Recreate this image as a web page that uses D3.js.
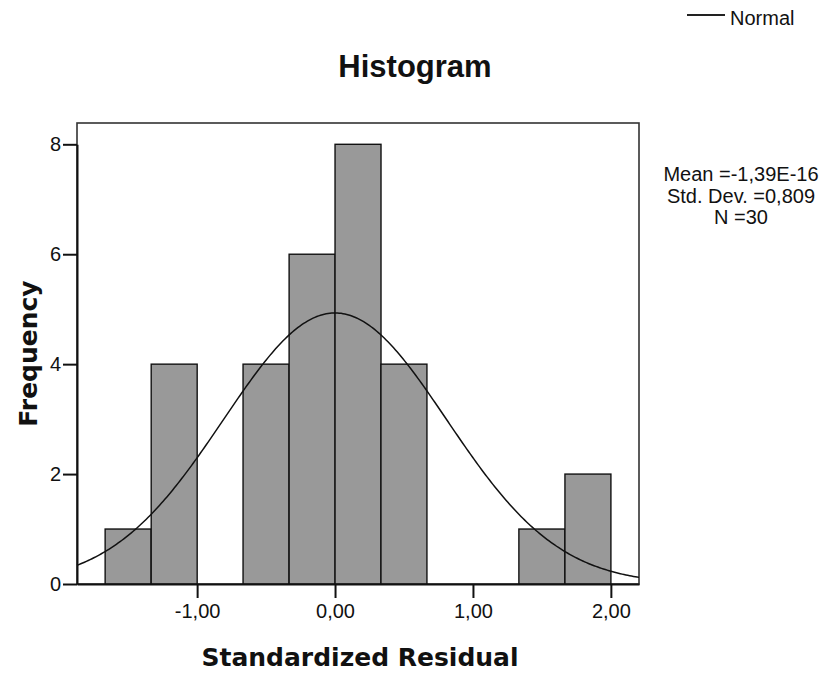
<!DOCTYPE html>
<html>
<head>
<meta charset="utf-8">
<script src="https://cdn.jsdelivr.net/npm/d3@7"></script>
<style>
  html, body { margin: 0; padding: 0; background: #fff; }
  svg { display: block; }
  text { font-family: "Liberation Sans", Arial, sans-serif; fill: #111; }
  .axis-title { font-family: "DejaVu Sans", Verdana, sans-serif; font-weight: bold; font-size: 25px; }
</style>
</head>
<body>
<svg id="chart" width="828" height="675"></svg>
<script>
// Histogram bins: lower edge of each bin and its frequency
const binLower = [-1.667, -1.333, -1.0, -0.667, -0.333, 0.0, 0.333, 0.667, 1.0, 1.333, 1.667];
const counts   = [1, 4, 0, 4, 6, 8, 4, 0, 0, 1, 2];
const binWidth = 1 / 3;

// Summary statistics shown beside the plot
const meanValue = -1.39e-16;
const stdDev = 0.809;
const nObs = 30;
const statLines = ["Mean =-1,39E-16", "Std. Dev. =0,809", "N =30"];

// Axis ticks
const xTicks = [-1, 0, 1, 2];
const xTickLabels = ["-1,00", "0,00", "1,00", "2,00"];
const yTicks = [0, 2, 4, 6, 8];

const svg = d3.select("#chart");
const plot = { left: 77, right: 639, top: 123, bottom: 584 };

const x = d3.scaleLinear().domain([-1.871, 2.204]).range([plot.left, plot.right]);
const y = d3.scaleLinear().domain([0, 8]).range([plot.bottom, 144.3]);

// Plot frame
svg.append("rect")
  .attr("x", plot.left).attr("y", plot.top)
  .attr("width", plot.right - plot.left).attr("height", plot.bottom - plot.top)
  .attr("fill", "none").attr("stroke", "#333").attr("stroke-width", 1.6);

// Bars
const bins = binLower.map((lo, i) => ({ lo, hi: lo + binWidth, n: counts[i] })).filter(d => d.n > 0);
svg.append("g").selectAll("rect").data(bins).join("rect")
  .attr("x", d => x(d.lo))
  .attr("y", d => y(d.n))
  .attr("width", d => x(d.hi) - x(d.lo))
  .attr("height", d => y(0) - y(d.n))
  .attr("fill", "#999999")
  .attr("stroke", "#111")
  .attr("stroke-width", 1.4);

// Fitted normal curve scaled to frequency
const scaleFactor = nObs * binWidth / (stdDev * Math.sqrt(2 * Math.PI));
const curvePts = d3.range(0, 301).map(i => {
  const v = x.domain()[0] + (x.domain()[1] - x.domain()[0]) * i / 300;
  const z = (v - meanValue) / stdDev;
  return [v, scaleFactor * Math.exp(-0.5 * z * z)];
});
svg.append("path")
  .datum(curvePts)
  .attr("d", d3.line().x(d => x(d[0])).y(d => y(d[1])))
  .attr("fill", "none").attr("stroke", "#111").attr("stroke-width", 1.5);

// Axes
const xAxis = d3.axisBottom(x).tickValues(xTicks).tickFormat((d, i) => xTickLabels[i])
  .tickSizeInner(14).tickSizeOuter(0).tickPadding(6);
const gx = svg.append("g").attr("transform", `translate(0,${plot.bottom})`).call(xAxis);
gx.select(".domain").attr("stroke", "#111").attr("stroke-width", 2);
gx.selectAll(".tick line").attr("stroke", "#111").attr("stroke-width", 2);
gx.selectAll(".tick text").attr("font-family", "Liberation Sans, Arial, sans-serif")
  .attr("font-size", 20).attr("fill", "#111");

const yAxis = d3.axisLeft(y).tickValues(yTicks).tickFormat(d3.format("d"))
  .tickSizeInner(14).tickSizeOuter(0).tickPadding(2);
const gy = svg.append("g").attr("transform", `translate(${plot.left},0)`).call(yAxis);
gy.select(".domain").attr("stroke", "#111").attr("stroke-width", 2);
gy.selectAll(".tick line").attr("stroke", "#111").attr("stroke-width", 2);
gy.selectAll(".tick text").attr("font-family", "Liberation Sans, Arial, sans-serif")
  .attr("font-size", 20).attr("fill", "#111");

// Title
svg.append("text").attr("x", 415).attr("y", 77)
  .attr("text-anchor", "middle").attr("font-weight", "bold").attr("font-size", 31)
  .text("Histogram");

// Axis titles
svg.append("text").attr("class", "axis-title")
  .attr("x", 360).attr("y", 666).attr("text-anchor", "middle")
  .text("Standardized Residual");
svg.append("text").attr("class", "axis-title")
  .attr("transform", "translate(37,353.5) rotate(-90)").attr("text-anchor", "middle")
  .text("Frequency");

// Legend
svg.append("line").attr("x1", 687).attr("x2", 725).attr("y1", 15).attr("y2", 15)
  .attr("stroke", "#222").attr("stroke-width", 2);
svg.append("text").attr("x", 730).attr("y", 25).attr("font-size", 20).text("Normal");

// Statistics block
svg.append("g").selectAll("text").data(statLines).join("text")
  .attr("x", 741).attr("y", (d, i) => 181 + i * 21.5)
  .attr("text-anchor", "middle").attr("font-size", 20)
  .text(d => d);
</script>
</body>
</html>
